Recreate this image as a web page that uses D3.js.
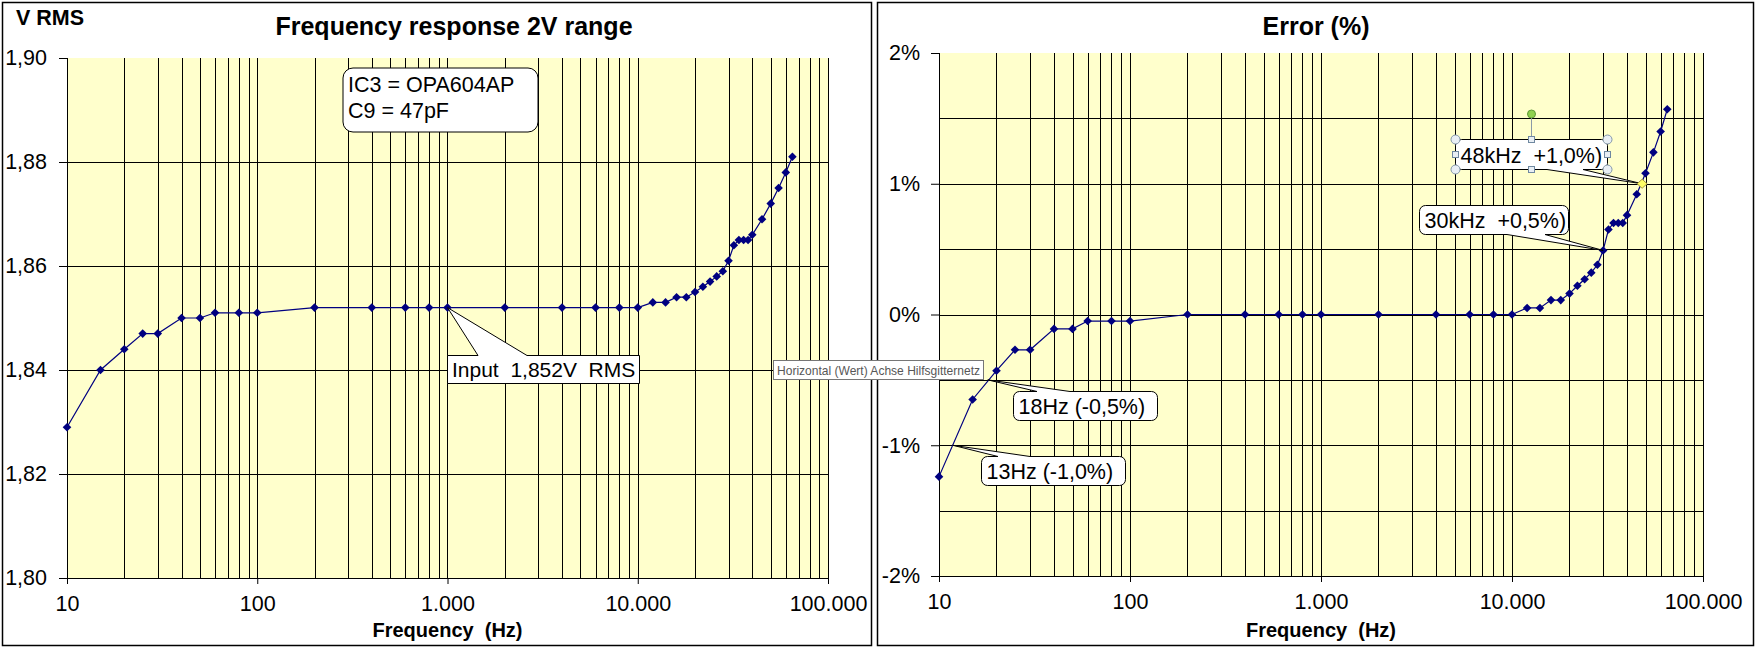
<!DOCTYPE html>
<html><head><meta charset="utf-8">
<script src="https://cdn.jsdelivr.net/npm/d3@7"></script>
<style>
body{margin:0;background:#fff;}
text{font-family:"Liberation Sans",Arial,sans-serif;white-space:pre;}
</style></head>
<body>
<script>
// ---- data ----
const freqs = [10,15,20,25,30,40,50,60,80,100,200,400,600,800,1000,2000,4000,6000,8000,10000,
  12000,14000,16000,18000,20000,22000,24000,26000,28000,30000,32000,34000,36000,38000,40000,45000,50000,55000,60000,65000];
const vrms = [1.829,1.840,1.844,1.847,1.847,1.850,1.850,1.851,1.851,1.851,
  1.852,1.852,1.852,1.852,1.852,1.852,1.852,1.852,1.852,1.852,
  1.853,1.853,1.854,1.854,1.855,1.856,1.857,1.858,1.859,1.861,
  1.864,1.865,1.865,1.865,1.866,1.869,1.872,1.875,1.878,1.881];
const errPct = [-1.24,-0.65,-0.43,-0.27,-0.27,-0.11,-0.11,-0.05,-0.05,-0.05,
  0,0,0,0,0,0,0,0,0,0,
  0.05,0.05,0.11,0.11,0.16,0.22,0.27,0.32,0.38,0.49,
  0.65,0.70,0.70,0.70,0.76,0.92,1.08,1.24,1.40,1.57];
const xTickValues = [10,100,1000,10000,100000];
const xTickLabels = ["10","100","1.000","10.000","100.000"];
const leftYTicks = [1.80,1.82,1.84,1.86,1.88,1.90];
const leftYTickLabels = ["1,80","1,82","1,84","1,86","1,88","1,90"];
const rightYTicks = [-2,-1,0,1,2];
const rightYTickLabels = ["-2%","-1%","0%","1%","2%"];
const rightYGrid = [-1.5,-1,-0.5,0,0.5,1,1.5];

const W = 1756, H = 648;
const svg = d3.select("body").append("svg").attr("width", W).attr("height", H);
svg.append("rect").attr("width", W).attr("height", H).attr("fill", "#fff");

// panel borders
svg.append("rect").attr("x", 2.5).attr("y", 2.5).attr("width", 869).attr("height", 643)
  .attr("fill", "#fff").attr("stroke", "#000").attr("stroke-width", 1.5);
svg.append("rect").attr("x", 877.5).attr("y", 2.5).attr("width", 876).attr("height", 643)
  .attr("fill", "#fff").attr("stroke", "#000").attr("stroke-width", 1.5);

function calloutPath(x0, y0, x1, y1, r, side, b0, b1, tx, ty) {
  let p = `M${x0 + r},${y0}`;
  if (side === "top") p += `L${b0},${y0}L${tx},${ty}L${b1},${y0}`;
  p += `L${x1 - r},${y0}`;
  if (r) p += `A${r},${r} 0 0 1 ${x1},${y0 + r}`;
  p += `L${x1},${y1 - r}`;
  if (r) p += `A${r},${r} 0 0 1 ${x1 - r},${y1}`;
  if (side === "bottom") p += `L${b1},${y1}L${tx},${ty}L${b0},${y1}`;
  p += `L${x0 + r},${y1}`;
  if (r) p += `A${r},${r} 0 0 1 ${x0},${y1 - r}`;
  p += `L${x0},${y0 + r}`;
  if (r) p += `A${r},${r} 0 0 1 ${x0 + r},${y0}`;
  return p + "Z";
}

function drawChart(cfg) {
  const g = svg.append("g");
  const x = d3.scaleLog().domain([10, 100000]).range([cfg.x0, cfg.x1]);
  const y = d3.scaleLinear().domain(cfg.yDomain).range([cfg.yBot, cfg.yTop]);
  g.append("rect").attr("x", cfg.x0).attr("y", cfg.yTop)
    .attr("width", cfg.x1 - cfg.x0).attr("height", cfg.yBot - cfg.yTop).attr("fill", "#FFFFCC");
  // vertical grid (major + minor log)
  g.append("g").selectAll("line").data(x.ticks()).join("line")
    .attr("x1", d => Math.round(x(d)) + 0.5).attr("x2", d => Math.round(x(d)) + 0.5)
    .attr("y1", cfg.yTop).attr("y2", cfg.yBot).attr("stroke", "#000").attr("stroke-width", 1);
  // horizontal grid
  g.append("g").selectAll("line").data(cfg.hGrid).join("line")
    .attr("x1", cfg.x0).attr("x2", cfg.x1)
    .attr("y1", d => Math.round(y(d)) + 0.5).attr("y2", d => Math.round(y(d)) + 0.5)
    .attr("stroke", "#000").attr("stroke-width", 1);
  // axes
  const ax = g.append("g").attr("transform", `translate(0,${cfg.yBot})`)
    .call(d3.axisBottom(x).tickValues(xTickValues).tickFormat((d, i) => xTickLabels[i]).tickSize(6).tickPadding(12));
  ax.selectAll("text").attr("font-size", 21.5).attr("fill", "#000").attr("font-family", "Liberation Sans, Arial");
  ax.selectAll("line,path").attr("stroke", "#000");
  const ay = g.append("g").attr("transform", `translate(${cfg.x0},0)`)
    .call(d3.axisLeft(y).tickValues(cfg.yTicks).tickFormat((d, i) => cfg.yLabels[i]).tickSize(8).tickPadding(cfg.yPad));
  ay.selectAll("text").attr("font-size", 21.5).attr("fill", "#000").attr("font-family", "Liberation Sans, Arial");
  ay.selectAll("line,path").attr("stroke", "#000");
  ay.select("path").attr("d", `M0.5,${cfg.yTop}V${cfg.yBot}`);
  // series
  const data = freqs.map((f, i) => ({ f, v: cfg.values[i] }));
  g.append("path").datum(data).attr("fill", "none").attr("stroke", "#000080").attr("stroke-width", 1.2)
    .attr("d", d3.line().x(d => x(d.f)).y(d => y(d.v)));
  g.append("g").selectAll("path").data(data).join("path")
    .attr("transform", d => `translate(${x(d.f)},${y(d.v)})`)
    .attr("d", "M0,-4.3L4.3,0L0,4.3L-4.3,0Z").attr("fill", "#000080");
  // titles
  g.append("text").attr("x", cfg.titleX).attr("y", 35).attr("text-anchor", "middle")
    .attr("font-size", 25).attr("font-weight", "bold").text(cfg.title);
  g.append("text").attr("x", (cfg.x0 + cfg.x1) / 2).attr("y", 637).attr("text-anchor", "middle")
    .attr("font-size", 20).attr("font-weight", "bold").text("Frequency  (Hz)");
  return { x, y, g };
}

// ---- left chart ----
const L = drawChart({ x0: 67, x1: 828, yTop: 58, yBot: 578, yDomain: [1.80, 1.90],
  hGrid: [1.82, 1.84, 1.86, 1.88], yTicks: leftYTicks, yLabels: leftYTickLabels, yPad: 12,
  values: vrms, title: "Frequency response 2V range", titleX: 454 });
svg.append("text").attr("x", 16).attr("y", 25).attr("font-size", 21.5).attr("font-weight", "bold").text("V RMS");

// IC3 box
svg.append("rect").attr("x", 343).attr("y", 68).attr("width", 195).attr("height", 64).attr("rx", 10)
  .attr("fill", "#fff").attr("stroke", "#000").attr("stroke-width", 1);
svg.append("text").attr("x", 348).attr("y", 92).attr("font-size", 21.5).text("IC3 = OPA604AP");
svg.append("text").attr("x", 348).attr("y", 118).attr("font-size", 21.5).text("C9 = 47pF");

// Input callout
{
  const tx = L.x(1000), ty = L.y(1.852);
  svg.append("path").attr("d", calloutPath(447.5, 355.5, 639.5, 383.5, 0, "top", 478, 527, tx, ty))
    .attr("fill", "#fff").attr("stroke", "#000").attr("stroke-width", 1);
  svg.append("text").attr("x", 452).attr("y", 377).attr("font-size", 21).text("Input  1,852V  RMS");
}

// ---- right chart ----
const R = drawChart({ x0: 939, x1: 1703, yTop: 53, yBot: 576, yDomain: [-2, 2],
  hGrid: rightYGrid, yTicks: rightYTicks, yLabels: rightYTickLabels, yPad: 11,
  values: errPct, title: "Error (%)", titleX: 1316 });

function roundCallout(x0, y0, x1, y1, side, b0, b1, tip, label) {
  const tx = R.x(tip[0]), ty = R.y(tip[1]);
  svg.append("path").attr("d", calloutPath(x0, y0, x1, y1, 6, side, b0, b1, tx, ty))
    .attr("fill", "#fff").attr("stroke", "#000").attr("stroke-width", 1);
  svg.append("text").attr("x", x0 + 5).attr("y", y1 - 7).attr("font-size", 21.5).text(label);
  return [tx, ty];
}
roundCallout(981.5, 456.5, 1125.5, 485.5, "top", 998, 1030, [11.8, -1.0], "13Hz (-1,0%)");
roundCallout(1013.5, 391.5, 1157.5, 420.5, "top", 1037, 1070, [18, -0.5], "18Hz (-0,5%)");
roundCallout(1419.5, 205.5, 1568.5, 234.5, "bottom", 1507, 1545, [30000, 0.49], "30kHz  +0,5%)");
const tip48 = roundCallout(1455.5, 139.5, 1607.5, 169.5, "bottom", 1547, 1583, [48000, 1.0], "48kHz  +1,0%)");

// selection handles on 48kHz callout
{
  const x0 = 1455.5, y0 = 139.5, x1 = 1607.5, y1 = 169.5, xm = (x0 + x1) / 2, ym = (y0 + y1) / 2;
  svg.append("line").attr("x1", xm).attr("x2", xm).attr("y1", 118).attr("y2", y0).attr("stroke", "#8a9aa8");
  svg.append("circle").attr("cx", xm).attr("cy", 114).attr("r", 4).attr("fill", "#8fd14f").attr("stroke", "#5f9a3a");
  [[x0, y0], [x1, y0], [x0, y1], [x1, y1]].forEach(([cx, cy]) =>
    svg.append("circle").attr("cx", cx).attr("cy", cy).attr("r", 4.5).attr("fill", "#e8eef4").attr("stroke", "#8296a8"));
  [[xm, y0], [xm, y1], [x0, ym], [x1, ym]].forEach(([cx, cy]) =>
    svg.append("rect").attr("x", cx - 3).attr("y", cy - 3).attr("width", 6).attr("height", 6)
      .attr("fill", "#e8eef4").attr("stroke", "#6f88a0"));
  svg.append("path").attr("transform", `translate(${tip48[0]},${tip48[1]})`)
    .attr("d", "M0,-4.5L5,0L0,4.5L-5,0Z").attr("fill", "#ffff66").attr("stroke", "#a89a40");
}

// tooltip
svg.append("rect").attr("x", 773.5).attr("y", 360.5).attr("width", 210).attr("height", 19)
  .attr("fill", "#fff").attr("stroke", "#767676");
svg.append("text").attr("x", 777).attr("y", 375).attr("font-size", 13.5)
  .attr("font-family", "Noto Sans, Open Sans, sans-serif").attr("fill", "#575757")
  .attr("textLength", 203).attr("lengthAdjust", "spacingAndGlyphs")
  .text("Horizontal (Wert) Achse Hilfsgitternetz");
</script>
</body></html>
